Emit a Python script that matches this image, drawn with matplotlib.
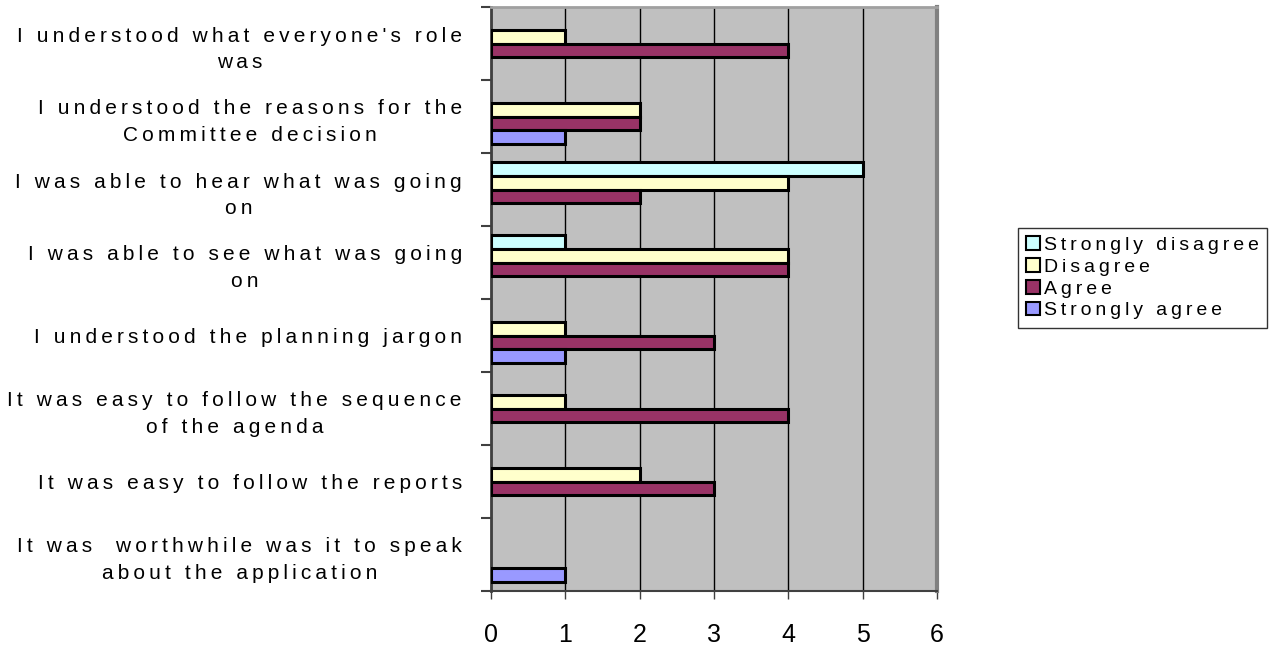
import numpy as np
import matplotlib.pyplot as plt

plt.rcParams['font.family'] = ['Liberation Sans', 'DejaVu Sans']

questions = [
    "I understood what everyone's role\nwas",
    "I understood the reasons for the\nCommittee decision",
    "I was able to hear what was going\non",
    "I was able to see what was going\non",
    "I understood the planning jargon",
    "It was easy to follow the sequence\nof the agenda",
    "It was easy to follow the reports",
    "It was  worthwhile was it to speak\nabout the application",
]
responses = ["Strongly disagree", "Disagree", "Agree", "Strongly agree"]
strongly_disagree = [0, 0, 5, 1, 0, 0, 0, 0]
disagree = [1, 2, 4, 4, 1, 1, 2, 0]
agree = [4, 2, 2, 4, 3, 4, 3, 0]
strongly_agree = [0, 1, 0, 0, 1, 0, 0, 1]
colours = ["#CCFFFF", "#FFFFCC", "#993366", "#9999FF"]


def spaced(s):
    # old Excel charts render labels with wide letter spacing
    return "\n".join("\u2009".join(line) for line in s.split("\n"))


fig = plt.figure(figsize=(12.78, 6.45), dpi=100)
ax = fig.add_axes([491 / 1278, 1 - 591 / 645, (937 - 491) / 1278, (591 - 7) / 645])
ax.set_facecolor("#C0C0C0")

y = np.arange(len(questions))[::-1]
h = 0.185
offsets = [1.5 * h, 0.5 * h, -0.5 * h, -1.5 * h]
series = [strongly_disagree, disagree, agree, strongly_agree]

for vals, off, c, name in zip(series, offsets, colours, responses):
    vals = np.array(vals)
    keep = vals > 0
    ax.barh(y[keep] + off, vals[keep], height=h, color=c, edgecolor="black",
            linewidth=2.2, label=spaced(name), zorder=3)

ax.set_xlim(0, 6)
ax.set_ylim(-0.5, len(questions) - 0.5)
ax.set_xticks(range(7))
ax.tick_params(axis="x", direction="out", length=6, width=1, color="#404040",
               labelsize=18, pad=17)
ax.xaxis.grid(True, color="black", linewidth=1)
ax.set_axisbelow(True)

ax.set_yticks(np.arange(-0.5, len(questions), 1))
ax.set_yticklabels([])
ax.set_yticks(y, minor=True)
ax.set_yticklabels([spaced(q) for q in questions], minor=True,
                   fontsize=15, multialignment="center", linespacing=1.5)
ax.tick_params(axis="y", which="major", direction="out", length=7, width=1.5,
               color="#404040")
ax.tick_params(axis="y", which="minor", length=0, pad=21)

ax.spines["left"].set_color("#404040")
ax.spines["left"].set_linewidth(2)
ax.spines["bottom"].set_color("#404040")
ax.spines["bottom"].set_linewidth(1.5)
ax.spines["top"].set_color("#A0A0A0")
ax.spines["top"].set_linewidth(2)
ax.spines["right"].set_color("#808080")
ax.spines["right"].set_linewidth(3)

leg = ax.legend(loc="upper left", bbox_to_anchor=(1018 / 1278, 1 - 228 / 645),
                bbox_transform=fig.transFigure, borderaxespad=0, fontsize=14,
                frameon=True, fancybox=False, edgecolor="black",
                handlelength=0.7, handleheight=0.7, handletextpad=0.2,
                labelspacing=0.22, borderpad=0.42)
leg.get_frame().set_linewidth(1)
for p in leg.get_patches():
    p.set_linewidth(1.5)

fig.savefig("out.png", dpi=100)
